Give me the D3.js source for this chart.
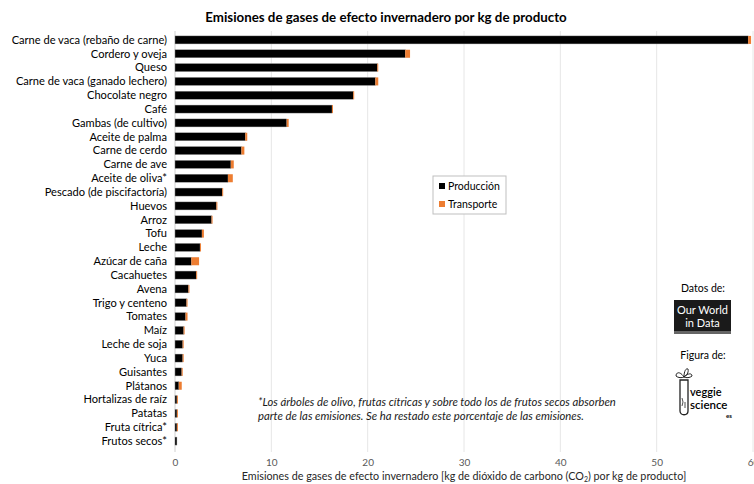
<!DOCTYPE html>
<html>
<head>
<meta charset="utf-8">
<script src="https://cdn.jsdelivr.net/npm/d3@7"></script>
<style>
  body { margin: 0; background: #fff; }
  svg { display: block; font-family: Lato, "Open Sans", sans-serif; }
  .catLabel { font-size: 11.1px; fill: #000; }
  .tick text { font-size: 10px; fill: #595959; }
</style>
</head>
<body>
<script>
// categories, top to bottom
var categories = [
    "Carne de vaca (rebaño de carne)", "Cordero y oveja", "Queso",
    "Carne de vaca (ganado lechero)", "Chocolate negro", "Café",
    "Gambas (de cultivo)", "Aceite de palma", "Carne de cerdo",
    "Carne de ave", "Aceite de oliva*", "Pescado (de piscifactoría)",
    "Huevos", "Arroz", "Tofu", "Leche", "Azúcar de caña", "Cacahuetes",
    "Avena", "Trigo y centeno", "Tomates", "Maíz", "Leche de soja",
    "Yuca", "Guisantes", "Plátanos", "Hortalizas de raíz", "Patatas",
    "Fruta cítrica*", "Frutos secos*"
];
var produccion = [
    59.5, 23.9, 21.0, 20.8, 18.5, 16.3, 11.6, 7.3, 6.9, 5.8, 5.5, 4.9,
    4.3, 3.8, 2.8, 2.6, 1.7, 2.2, 1.4, 1.2, 1.1, 0.9, 0.8, 0.8, 0.7,
    0.4, 0.2, 0.2, 0.2, 0.2
];
var transporte = [
    0.3, 0.5, 0.1, 0.3, 0.1, 0.1, 0.2, 0.2, 0.3, 0.3, 0.5, 0.1, 0.1,
    0.1, 0.2, 0.1, 0.8, 0.1, 0.1, 0.1, 0.2, 0.1, 0.1, 0.1, 0.1, 0.3,
    0.1, 0.1, 0.1, 0.0
];
var xTicks = [0, 10, 20, 30, 40, 50, 60];
var seriesNames = ["Producción", "Transporte"];
var seriesColors = ["#000000", "#ed7d31"];
var noteLines = [
    "*Los árboles de olivo, frutas cítricas y sobre todo los de frutos secos absorben",
    "parte de las emisiones. Se ha restado este porcentaje de las emisiones."
];

var width = 754, height = 484;

var svg = d3.select("body").append("svg")
    .attr("width", width)
    .attr("height", height);

var x = d3.scaleLinear().domain([0, 60]).range([175, 753]);
var y = d3.scaleBand()
    .domain(categories)
    .range([33, 448])
    .paddingInner(0.42)
    .paddingOuter(0.21);

//Title
svg.append("text")
    .attr("x", 386)
    .attr("y", 22)
    .attr("text-anchor", "middle")
    .style("font-size", "13.3px")
    .style("font-weight", "bold")
    .text("Emisiones de gases de efecto invernadero por kg de producto");

//Grid lines
svg.append("g")
    .selectAll("line")
    .data(xTicks.slice(1))
    .join("line")
    .attr("x1", d => x(d)).attr("x2", d => x(d))
    .attr("y1", 31).attr("y2", 452)
    .attr("stroke", "#e6e6e6")
    .attr("stroke-width", 1);

svg.append("line")
    .attr("x1", x(0)).attr("x2", x(0))
    .attr("y1", 31).attr("y2", 452)
    .attr("stroke", "#d0d0d0");

//X axis
var xAxis = svg.append("g")
    .attr("transform", "translate(0,452)")
    .call(d3.axisBottom(x).tickValues(xTicks).tickSize(0).tickPadding(7));
xAxis.select(".domain").remove();
xAxis.selectAll(".tick text").style("font-family", "Lato, sans-serif");

var axisTitle = svg.append("text")
    .attr("x", 464)
    .attr("y", 480)
    .attr("text-anchor", "middle")
    .style("font-size", "10.75px")
    .style("fill", "#262626");
axisTitle.append("tspan").text("Emisiones de gases de efecto invernadero [kg de dióxido de carbono (CO");
axisTitle.append("tspan").attr("dy", 2).style("font-size", "7px").text("2");
axisTitle.append("tspan").attr("dy", -2).text(") por kg de producto]");

//Category labels
svg.append("g")
    .selectAll("text")
    .data(categories)
    .join("text")
    .attr("class", "catLabel")
    .attr("x", 167)
    .attr("y", d => y(d) + y.bandwidth() / 2)
    .attr("dy", "0.35em")
    .attr("text-anchor", "end")
    .text(d => d);

//Bars
var rows = svg.append("g")
    .selectAll("g")
    .data(categories)
    .join("g");

rows.append("rect")
    .attr("x", x(0))
    .attr("y", d => y(d))
    .attr("width", (d, i) => x(produccion[i]) - x(0))
    .attr("height", y.bandwidth())
    .attr("fill", seriesColors[0])
    .attr("stroke", "#9a9a9a")
    .attr("stroke-width", 0.4);

rows.append("rect")
    .attr("x", (d, i) => x(produccion[i]))
    .attr("y", d => y(d))
    .attr("width", (d, i) => x(produccion[i] + transporte[i]) - x(produccion[i]))
    .attr("height", y.bandwidth())
    .attr("fill", seriesColors[1]);

//Legend
var legend = svg.append("g").attr("transform", "translate(433,176)");
legend.append("rect")
    .attr("width", 73).attr("height", 38)
    .attr("fill", "#fff")
    .attr("stroke", "#bfbfbf");
seriesNames.forEach(function (name, i) {
    legend.append("rect")
        .attr("x", 6).attr("y", 7 + i * 18)
        .attr("width", 6).attr("height", 6)
        .attr("fill", seriesColors[i]);
    legend.append("text")
        .attr("x", 15).attr("y", 10 + i * 18)
        .attr("dy", "0.35em")
        .style("font-size", "10.5px")
        .text(name);
});

//Note
svg.append("g")
    .selectAll("text")
    .data(noteLines)
    .join("text")
    .attr("x", 258)
    .attr("y", (d, i) => 406 + i * 14)
    .style("font-size", "11.3px")
    .style("font-style", "italic")
    .style("fill", "#1a1a1a")
    .text(d => d);

//Credits
svg.append("text")
    .attr("x", 703).attr("y", 292)
    .attr("text-anchor", "middle")
    .style("font-size", "10.5px")
    .text("Datos de:");

var owid = svg.append("g").attr("transform", "translate(674,300)");
owid.append("rect").attr("width", 57).attr("height", 34).attr("fill", "#1a1a1a");
owid.append("rect").attr("y", 31).attr("width", 57).attr("height", 3).attr("fill", "#666");
owid.append("text").attr("x", 28.5).attr("y", 14)
    .attr("text-anchor", "middle").style("font-size", "11px").style("fill", "#fff")
    .text("Our World");
owid.append("text").attr("x", 28.5).attr("y", 27)
    .attr("text-anchor", "middle").style("font-size", "11px").style("fill", "#fff")
    .text("in Data");

svg.append("text")
    .attr("x", 703).attr("y", 359)
    .attr("text-anchor", "middle")
    .style("font-size", "10.5px")
    .text("Figura de:");

var veggie = svg.append("g").attr("transform", "translate(674,368)");
// leaves
veggie.append("path")
    .attr("d", "M10,9 C6,3 2,4 2,8 C4,10 8,10 10,9 M10,9 C10,3 12,0 14,1 C15,5 12,8 10,9 M10,9 C14,5 18,5 18,8 C16,10 12,10 10,9")
    .attr("fill", "none").attr("stroke", "#222").attr("stroke-width", 1);
// tube
veggie.append("path")
    .attr("d", "M6,12 L14,12 L14,43 C14,48 6,48 6,43 Z")
    .attr("fill", "none").attr("stroke", "#222").attr("stroke-width", 1.3);
veggie.append("path")
    .attr("d", "M8,30 Q10,34 8,38 M11,34 L11,40")
    .attr("fill", "none").attr("stroke", "#222").attr("stroke-width", 0.8);
veggie.append("text").attr("x", 16).attr("y", 28)
    .style("font-size", "11px").style("font-weight", "600").text("veggie");
veggie.append("text").attr("x", 16).attr("y", 41)
    .style("font-size", "11.5px").style("font-weight", "600").text("science");
veggie.append("text").attr("x", 52).attr("y", 50)
    .style("font-size", "6px").style("font-weight", "bold").text("es");
</script>
</body>
</html>
